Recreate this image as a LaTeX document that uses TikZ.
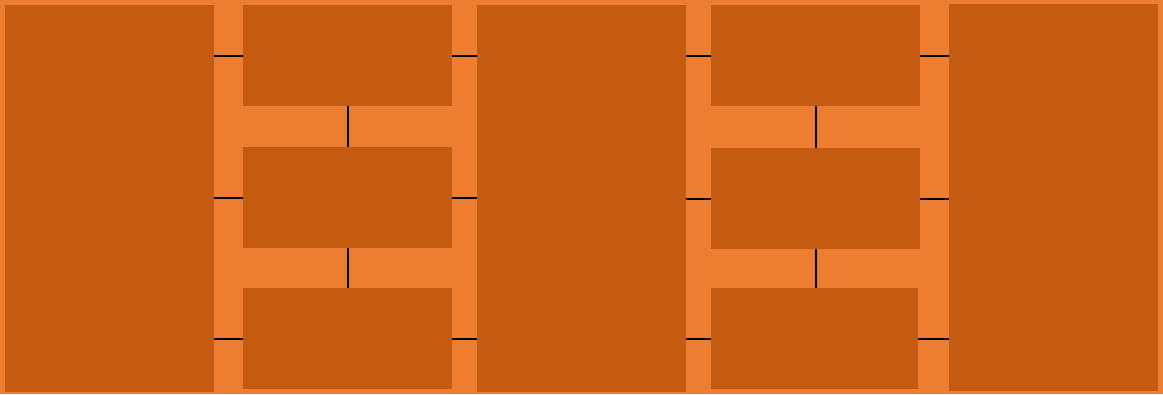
\documentclass[tikz,border=0pt]{standalone}
\usepackage{tikz}
\usetikzlibrary{positioning}

\definecolor{sheet}{HTML}{ED7D31}
\definecolor{panel}{HTML}{C55A11}

\begin{document}
\begin{tikzpicture}[
    x=1pt, y=-1pt,
    tall/.style={fill=panel, inner sep=0pt, minimum width=209pt, minimum height=387pt},
    cell/.style={fill=panel, inner sep=0pt, minimum width=209pt, minimum height=101pt},
    link/.style={line width=2pt, black}
]
\fill[sheet] (0,0) rectangle (1163,394);

\node[tall] (left) at (109.5,198.5) {};
\node[tall] (mid) at (581.5,198.5) {};
\node[tall] (right) at (1053.5,197.5) {};

\node[cell] (a1) at (347.5,55.5) {};
\node[cell] (a2) at (347.5,197.5) {};
\node[cell] (a3) at (347.5,338.5) {};

\node[cell] (b1) at (815.5,55.5) {};
\node[cell] (b2) at (815.5,198.5) {};
\node[cell, minimum width=207pt] (b3) at (814.5,338.5) {};

% left column to first stack
\draw[link] (left.east |- a1.west) -- (a1.west);
\draw[link] (left.east |- a2.west) -- (a2.west);
\draw[link] (left.east |- a3.west) -- (a3.west);
\draw[link] (a1.south) -- (a2.north);
\draw[link] (a2.south) -- (a3.north);

% first stack to middle column
\draw[link] (a1.east) -- (a1.east -| mid.west);
\draw[link] (a2.east) -- (a2.east -| mid.west);
\draw[link] (a3.east) -- (a3.east -| mid.west);

% middle column to second stack
\draw[link] (mid.east |- b1.west) -- (b1.west);
\draw[link] (mid.east |- b2.west) -- (b2.west);
\draw[link] (mid.east |- b3.west) -- (b3.west);
\draw[link] (b1.south) -- (b2.north);
\draw[link] (b2.south) -- (b2.south |- b3.north);

% second stack to right column
\draw[link] (b1.east) -- (b1.east -| right.west);
\draw[link] (b2.east) -- (b2.east -| right.west);
\draw[link] (b3.east) -- (b3.east -| right.west);
\end{tikzpicture}
\end{document}
